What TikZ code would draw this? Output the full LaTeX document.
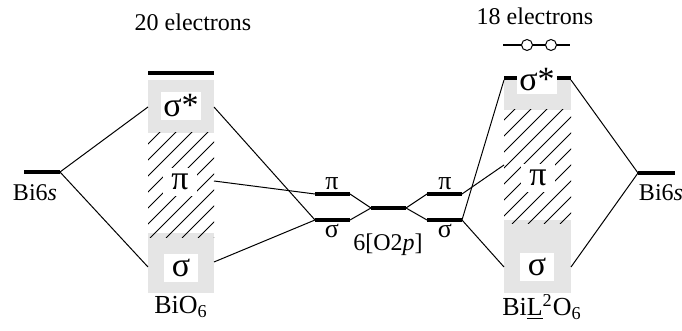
\documentclass[tikz,border=0pt]{standalone}
\usepackage{fontspec}
\setmainfont{Liberation Serif}
\usetikzlibrary{positioning}

\tikzset{
  lvl/.style={line width=2pt},
  conn/.style={line width=0.5pt},
  band/.style={fill=black!10,draw=none},
  hatch/.style={line width=0.4pt},
  blbl/.style={fill=white,inner sep=1pt,minimum width=17pt,minimum height=14pt,font=\fontsize{17}{17}\selectfont},
  slbl/.style={inner sep=0pt,font=\fontsize{13}{13}\selectfont},
  txt/.style={inner sep=0pt,font=\fontsize{12}{12}\selectfont},
  hole/.style={circle,draw,fill=white,line width=0.5pt,inner sep=0pt,minimum size=5.5pt}
}

\begin{document}
\begin{tikzpicture}[x=0.5pt,y=-0.5pt]
\useasboundingbox (0,0) rectangle (682,331);

% bands of the BiO6 block
\fill[band] (148,80) rectangle (214,133);
\fill[band] (148,233) rectangle (214,293);
\begin{scope}
\clip (148,133) rectangle (214,238);
\foreach \i in {0,16,...,176} \draw[hatch] (38+\i,238) -- ++(110,-110);
\end{scope}
% bands of the BiL2O6 block
\fill[band] (504,78) rectangle (571,110);
\fill[band] (504,220) rectangle (571,293);
\begin{scope}
\clip (504,110) rectangle (571,224);
\foreach \i in {0,16,...,192} \draw[hatch] (384+\i,224) -- ++(120,-120);
\end{scope}

% levels
\coordinate (lsL) at (24,172);  \coordinate (lsR) at (60,172);
\coordinate (ltL) at (148,73);  \coordinate (ltR) at (214,73);
\coordinate (lpiL) at (315,194); \coordinate (lpiR) at (350,194);
\coordinate (lsgL) at (315,220); \coordinate (lsgR) at (350,220);
\coordinate (cL) at (371,208);  \coordinate (cR) at (406,208);
\coordinate (rpiL) at (427,194); \coordinate (rpiR) at (462,194);
\coordinate (rsgL) at (427,220); \coordinate (rsgR) at (462,220);
\coordinate (rtL) at (504,78);  \coordinate (rtR) at (571,78);
\coordinate (rsL) at (638,173); \coordinate (rsR) at (675,173);
\draw[lvl] (lsL) -- (lsR);
\draw[lvl] (ltL) -- (ltR);
\draw[lvl] (lpiL) -- (lpiR); \draw[lvl] (lsgL) -- (lsgR);
\draw[lvl] (cL) -- (cR);
\draw[lvl] (rpiL) -- (rpiR); \draw[lvl] (rsgL) -- (rsgR);
\draw[lvl] (rtL) -- (rtR);
\draw[lvl] (rsL) -- (rsR);

% band labels
\node[blbl] (lsgs) at (181,106) {σ*};
\node[blbl] (lpi) at (180,182) {π};
\node[blbl] (lsg) at (181,268) {σ};
\node[blbl] (rsgs) at (537,80) {σ*};
\node[blbl] (rpi) at (538,178) {π};
\node[blbl] (rsg) at (537,267) {σ};

% block edges used by the connectors
\coordinate (aL1) at (148,107); \coordinate (aL2) at (148,267);
\coordinate (aR1) at (214,107); \coordinate (aR2) at (214,181); \coordinate (aR3) at (214,262);
\coordinate (bL1) at (504,80);  \coordinate (bL2) at (504,165); \coordinate (bL3) at (504,267);
\coordinate (bR1) at (571,80);  \coordinate (bR2) at (571,267);

% connectors
\draw[conn] (lsR) -- (aL1); \draw[conn] (lsR) -- (aL2);
\draw[conn] (aR1) -- (lsgL); \draw[conn] (aR2) -- (lpiL); \draw[conn] (aR3) -- (lsgL);
\draw[conn] (lpiR) -- (cL); \draw[conn] (lsgR) -- (cL);
\draw[conn] (cR) -- (rpiL); \draw[conn] (cR) -- (rsgL);
\draw[conn] (rpiR) -- (bL2); \draw[conn] (rsgR) -- (bL1); \draw[conn] (rsgR) -- (bL3);
\draw[conn] (rsL) -- (bR1); \draw[conn] (rsL) -- (bR2);

% holes
\coordinate (hL) at (503,45); \coordinate (hR) at (570,45);
\draw[conn,line width=0.8pt] (hL) -- (hR);
\node[hole] (h1) at (527,45) {};
\node[hole] (h2) at (551,45) {};

% texts
\node[txt] (e20) at (193,22) {20 electrons};
\node[txt] (e18) at (535,16) {18 electrons};
\node[txt] (bis1) at (35,193) {Bi6\textit{s}};
\node[txt] (bis2) at (661,193) {Bi6\textit{s}};
\node[txt] (bio) at (181,307) {\fontsize{13}{13}\selectfont BiO\textsubscript{6}};
\node[txt] (bil) at (542,307) {\fontsize{13}{13}\selectfont Bi\underline{L}\textsuperscript{2}O\textsubscript{6}};
\node[txt] (o2p) at (388,245) {6[O2\textit{p}]};
\node[slbl] (pi1) at (332,184) {π};
\node[slbl] (sg1) at (332,231) {σ};
\node[slbl] (pi2) at (445,184) {π};
\node[slbl] (sg2) at (445,231) {σ};
\end{tikzpicture}
\end{document}
